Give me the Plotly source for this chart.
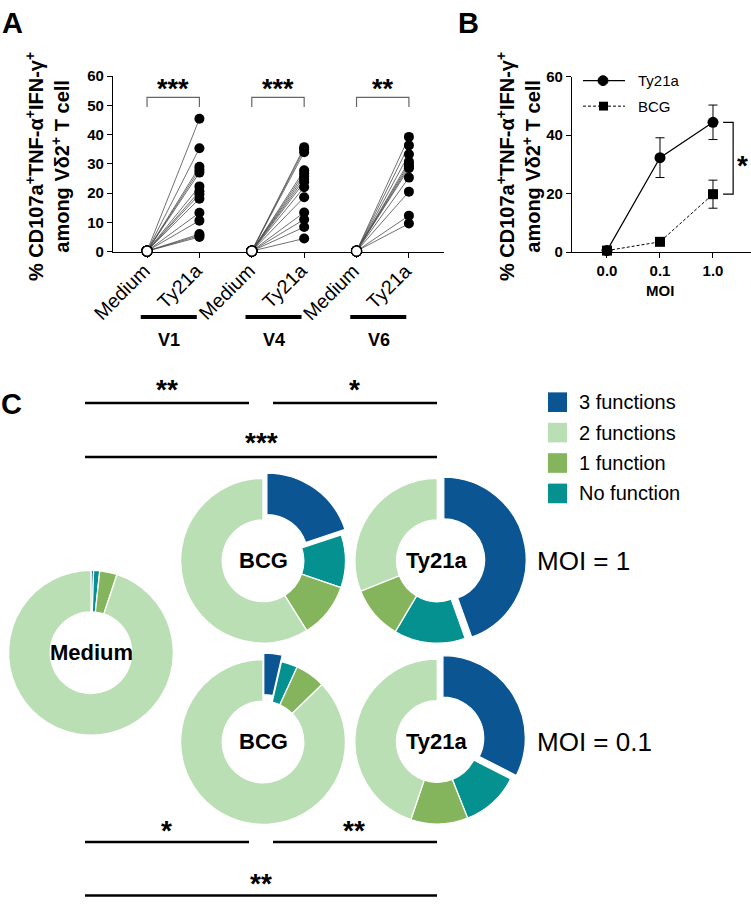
import plotly.graph_objects as go

W, H = 751, 906
FONT = "Liberation Sans, Arial, sans-serif"

# ---------------- Panel A data ----------------
groups = ["V1", "V4", "V6"]
conditions = ["Medium", "Ty21a"]
v1_medium = [0.2, 0.2, 0.2, 0.2, 0.2, 0.2, 0.2, 0.2, 0.2, 0.2, 0.2, 0.2, 0.2, 0.2]
v1_ty21a = [45.4, 35.3, 29.0, 28.0, 27.0, 22.3, 20.6, 19.6, 18.1, 13.3, 10.6, 6.0, 5.5, 5.0]
v4_medium = [0.2, 0.2, 0.2, 0.2, 0.2, 0.2, 0.2, 0.2, 0.2, 0.2, 0.2, 0.2, 0.2, 0.2]
v4_ty21a = [35.7, 35.0, 34.0, 27.8, 26.8, 25.8, 24.8, 23.8, 22.0, 18.6, 13.4, 11.0, 8.4, 4.5]
v6_medium = [0.2, 0.2, 0.2, 0.2, 0.2, 0.2, 0.2, 0.2, 0.2, 0.2, 0.2]
v6_ty21a = [39.2, 36.3, 33.3, 30.8, 30.0, 29.2, 28.5, 25.3, 20.5, 12.3, 9.6]
a_stars = ["***", "***", "**"]

# ---------------- Panel B data ----------------
moi_labels = ["0.0", "0.1", "1.0"]
ty21a_mean = [0.5, 32.3, 44.4]
ty21a_err = [0.3, 6.8, 5.9]
bcg_mean = [0.5, 3.5, 19.8]
bcg_err = [0.3, 0.8, 4.8]

# ---------------- Panel C data ----------------
func_labels = ["3 functions", "No function", "1 function", "2 functions"]
func_colors = ["#0B5592", "#05918F", "#84B45B", "#BBDFB4"]
legend_order = ["3 functions", "2 functions", "1 function", "No function"]
medium_pie = [0.5, 1.2, 3.4, 94.9]
bcg_moi1 = [19.9, 10.4, 10.8, 58.9]
ty21a_moi1 = [44.5, 14.0, 10.5, 31.0]
bcg_moi01 = [3.6, 3.2, 5.9, 87.3]
ty21a_moi01 = [32.5, 11.5, 11.2, 44.8]


def fx(x):
    return x / W


def fy(y):
    return 1 - y / H


fig = go.Figure()

# ---- Panel A traces ----
a_sets = [(v1_medium, v1_ty21a), (v4_medium, v4_ty21a), (v6_medium, v6_ty21a)]
for gi, (med, ty) in enumerate(a_sets):
    x0 = 2 * gi
    lx, ly = [], []
    for m, t in zip(med, ty):
        lx += [x0, x0 + 1, None]
        ly += [m, t, None]
    fig.add_trace(go.Scatter(x=lx, y=ly, mode="lines", line=dict(color="#4d4d4d", width=0.8),
                             xaxis="x", yaxis="y", hoverinfo="skip", cliponaxis=False))
    fig.add_trace(go.Scatter(x=[x0 + 1] * len(ty), y=ty, mode="markers",
                             marker=dict(color="black", size=10, line=dict(width=0)),
                             xaxis="x", yaxis="y", cliponaxis=False))
    fig.add_trace(go.Scatter(x=[x0] * len(med), y=med, mode="markers",
                             marker=dict(color="white", size=10, line=dict(color="black", width=1.2)),
                             xaxis="x", yaxis="y", cliponaxis=False))

# ---- Panel B traces ----
xb = list(range(len(moi_labels)))
fig.add_trace(go.Scatter(x=xb, y=bcg_mean, mode="lines+markers",
                         line=dict(color="black", width=1, dash="3px,2px"),
                         marker=dict(symbol="square", size=10, color="black"),
                         error_y=dict(type="data", array=bcg_err, color="black", thickness=1, width=4.5),
                         xaxis="x2", yaxis="y2", cliponaxis=False))
fig.add_trace(go.Scatter(x=xb, y=ty21a_mean, mode="lines+markers",
                         line=dict(color="black", width=1.2),
                         marker=dict(symbol="circle", size=11, color="black"),
                         error_y=dict(type="data", array=ty21a_err, color="black", thickness=1, width=4.5),
                         xaxis="x2", yaxis="y2", cliponaxis=False))

# ---- Panel C pies ----
R = 84
pies = [
    (medium_pie, 91, 656, [0, 0, 0, 0], "Medium"),
    (bcg_moi1, 263, 562.3, [0.08, 0, 0, 0], "BCG"),
    (ty21a_moi1, 437.3, 562.3, [0.08, 0, 0, 0], "Ty21a"),
    (bcg_moi01, 263, 747, [0.08, 0, 0, 0], "BCG"),
    (ty21a_moi01, 437.3, 746.5, [0.08, 0, 0, 0], "Ty21a"),
]
annotations = []
for vals, cx, cy, pull, name in pies:
    half = R * (1 + max(pull))
    fig.add_trace(go.Pie(values=vals, labels=func_labels, sort=False, direction="clockwise",
                         rotation=0, hole=0.495, pull=pull, textinfo="none",
                         marker=dict(colors=func_colors, line=dict(color="white", width=1.3)),
                         domain=dict(x=[fx(cx - half), fx(cx + half)], y=[fy(cy + half), fy(cy - half)]),
                         showlegend=False))
    annotations.append(dict(x=fx(cx), y=fy(cy), xref="paper", yref="paper", text="<b>%s</b>" % name,
                            showarrow=False, font=dict(family=FONT, size=22, color="black"),
                            xanchor="center", yanchor="middle"))

# ---------------- shapes ----------------
shapes = []
# Panel A brackets (data coords), rotated condition labels, group bars
for gi in range(3):
    x0 = 2 * gi
    shapes.append(dict(type="path", xref="x", yref="y",
                       path="M %f,49.4 L %f,52.7 L %f,52.7 L %f,49.4" % (x0, x0, x0 + 1, x0 + 1),
                       line=dict(color="#666666", width=1.2)))
    annotations.append(dict(x=x0 + 0.5, y=55.4, xref="x", yref="y", text="<b>%s</b>" % a_stars[gi],
                            showarrow=False, font=dict(family=FONT, size=27, color="black"),
                            xanchor="center", yanchor="middle"))
    for ci, cond in enumerate(conditions):
        annotations.append(dict(x=x0 + ci, y=fy(254), xref="x", yref="paper", text=cond, textangle=-45,
                                showarrow=False, font=dict(family=FONT, size=19.5, color="black"),
                                xanchor="right", yanchor="top", xshift=8, borderpad=0))
    shapes.append(dict(type="line", xref="x", yref="paper", x0=x0 - 0.12, x1=x0 + 0.95,
                       y0=fy(314), y1=fy(314), line=dict(color="black", width=4)))
    annotations.append(dict(x=x0 + 0.42, y=fy(337), xref="x", yref="paper", text="<b>%s</b>" % groups[gi],
                            showarrow=False, font=dict(family=FONT, size=18, color="black"),
                            xanchor="center", yanchor="middle"))

# Panel B bracket
shapes.append(dict(type="path", xref="x2", yref="y2",
                   path="M 2.19,%f L 2.38,%f L 2.38,%f L 2.19,%f" % (ty21a_mean[2], ty21a_mean[2], bcg_mean[2], bcg_mean[2]),
                   line=dict(color="black", width=1.2)))
annotations.append(dict(x=fx(749), y=fy(160), xref="paper", yref="paper", text="<b>*</b>",
                        showarrow=False, font=dict(family=FONT, size=28, color="black"),
                        xanchor="right", yanchor="middle", borderpad=0))

# Panel B legend
shapes.append(dict(type="line", xref="paper", yref="paper", x0=fx(583), x1=fx(625), y0=fy(73), y1=fy(73),
                   line=dict(color="black", width=1.2)))
shapes.append(dict(type="circle", xref="paper", yref="paper", x0=fx(598), x1=fx(608), y0=fy(78), y1=fy(68),
                   fillcolor="black", line=dict(color="black", width=1)))
shapes.append(dict(type="line", xref="paper", yref="paper", x0=fx(583), x1=fx(625), y0=fy(99), y1=fy(99),
                   line=dict(color="black", width=1, dash="3px,2px")))
shapes.append(dict(type="rect", xref="paper", yref="paper", x0=fx(599), x1=fx(608), y0=fy(103.5), y1=fy(94.5),
                   fillcolor="black", line=dict(color="black", width=0)))
for txt, yy in [("Ty21a", 73), ("BCG", 99)]:
    annotations.append(dict(x=fx(636), y=fy(yy), xref="paper", yref="paper", text=txt, showarrow=False,
                            font=dict(family=FONT, size=15, color="black"), xanchor="left", yanchor="middle"))

# Panel C significance lines
c_lines = [(85, 249, 401.5, "**", 166.5, 388), (273, 437, 401.5, "*", 354, 388),
           (85, 437, 456.5, "***", 261, 442),
           (85, 249, 849, "*", 166.5, 837), (273, 437, 849, "**", 354, 837),
           (85, 437, 903.5, "**", 261, 891)]
for x0, x1, yl, st, sx, sy in c_lines:
    shapes.append(dict(type="line", xref="paper", yref="paper", x0=fx(x0), x1=fx(x1), y0=fy(yl), y1=fy(yl),
                       line=dict(color="black", width=2.6)))
    annotations.append(dict(x=fx(sx), y=fy(sy), xref="paper", yref="paper", text="<b>%s</b>" % st,
                            showarrow=False, font=dict(family=FONT, size=28, color="black"),
                            xanchor="center", yanchor="middle"))

# Panel C legend
color_of = dict(zip(func_labels, func_colors))
for i, lab in enumerate(legend_order):
    yc = 400.7 + i * 31
    shapes.append(dict(type="rect", xref="paper", yref="paper", x0=fx(548), x1=fx(567),
                       y0=fy(yc + 10), y1=fy(yc - 10), fillcolor=color_of[lab], line=dict(width=0)))
    annotations.append(dict(x=fx(577), y=fy(yc), xref="paper", yref="paper", text=lab, showarrow=False,
                            font=dict(family=FONT, size=20, color="black"), xanchor="left", yanchor="middle"))

# MOI labels
for txt, yy in [("MOI = 1", 563), ("MOI = 0.1", 747)]:
    annotations.append(dict(x=fx(535), y=fy(yy), xref="paper", yref="paper", text=txt, showarrow=False,
                            font=dict(family=FONT, size=26, color="black"), xanchor="left", yanchor="middle"))

# Panel letters
for txt, xx, yy in [("A", 12, 14), ("B", 468, 14), ("C", 11, 403)]:
    annotations.append(dict(x=fx(xx), y=fy(yy), xref="paper", yref="paper", text="<b>%s</b>" % txt,
                            showarrow=False, font=dict(family=FONT, size=29, color="black"),
                            xanchor="center", yanchor="middle"))

# Axis titles
ytitle = "<b>% CD107a<sup>+</sup>TNF-α<sup>+</sup>IFN-γ<sup>+</sup><br>among Vδ2<sup>+</sup> T cell</b>"
for xx in [48, 519]:
    annotations.append(dict(x=fx(xx), y=fy(161), xref="paper", yref="paper", text=ytitle, textangle=-90,
                            showarrow=False, font=dict(family=FONT, size=20, color="black"),
                            xanchor="center", yanchor="middle"))
annotations.append(dict(x=1, y=fy(287), xref="x2", yref="paper", text="<b>MOI</b>", showarrow=False,
                        font=dict(family=FONT, size=15, color="black"), xanchor="center", yanchor="middle"))

axis_common = dict(showgrid=False, zeroline=False, showline=True, linecolor="black", linewidth=1.3,
                   ticks="outside", ticklen=5, tickwidth=1.2, tickcolor="black", layer="below traces")

fig.update_layout(
    width=W, height=H, margin=dict(l=0, r=0, t=0, b=0),
    paper_bgcolor="white", plot_bgcolor="white", showlegend=False,
    xaxis=dict(domain=[fx(113), fx(444)], range=[-0.65, 5.67], tickmode="array",
               tickvals=list(range(6)), showticklabels=False, anchor="y", **axis_common),
    yaxis=dict(domain=[fy(247.3), fy(68.3)], range=[0, 60], dtick=10, anchor="x",
               tickfont=dict(family=FONT, size=15, color="black", weight="bold"), **axis_common),
    xaxis2=dict(domain=[fx(572), 1.0], range=[-0.66, 2.717], tickmode="array", tickvals=xb,
                ticktext=moi_labels, anchor="y2",
                tickfont=dict(family=FONT, size=15, color="black", weight="bold"), **axis_common),
    yaxis2=dict(domain=[fy(247.7), fy(69)], range=[0, 60], dtick=20, anchor="x2",
                tickfont=dict(family=FONT, size=15, color="black", weight="bold"), **axis_common),
    shapes=shapes, annotations=annotations,
)

fig.write_html("out.html", config={"displayModeBar": False},
               post_script="document.body.style.margin='0';document.body.style.padding='0';"
                           "document.documentElement.style.overflow='hidden';")
